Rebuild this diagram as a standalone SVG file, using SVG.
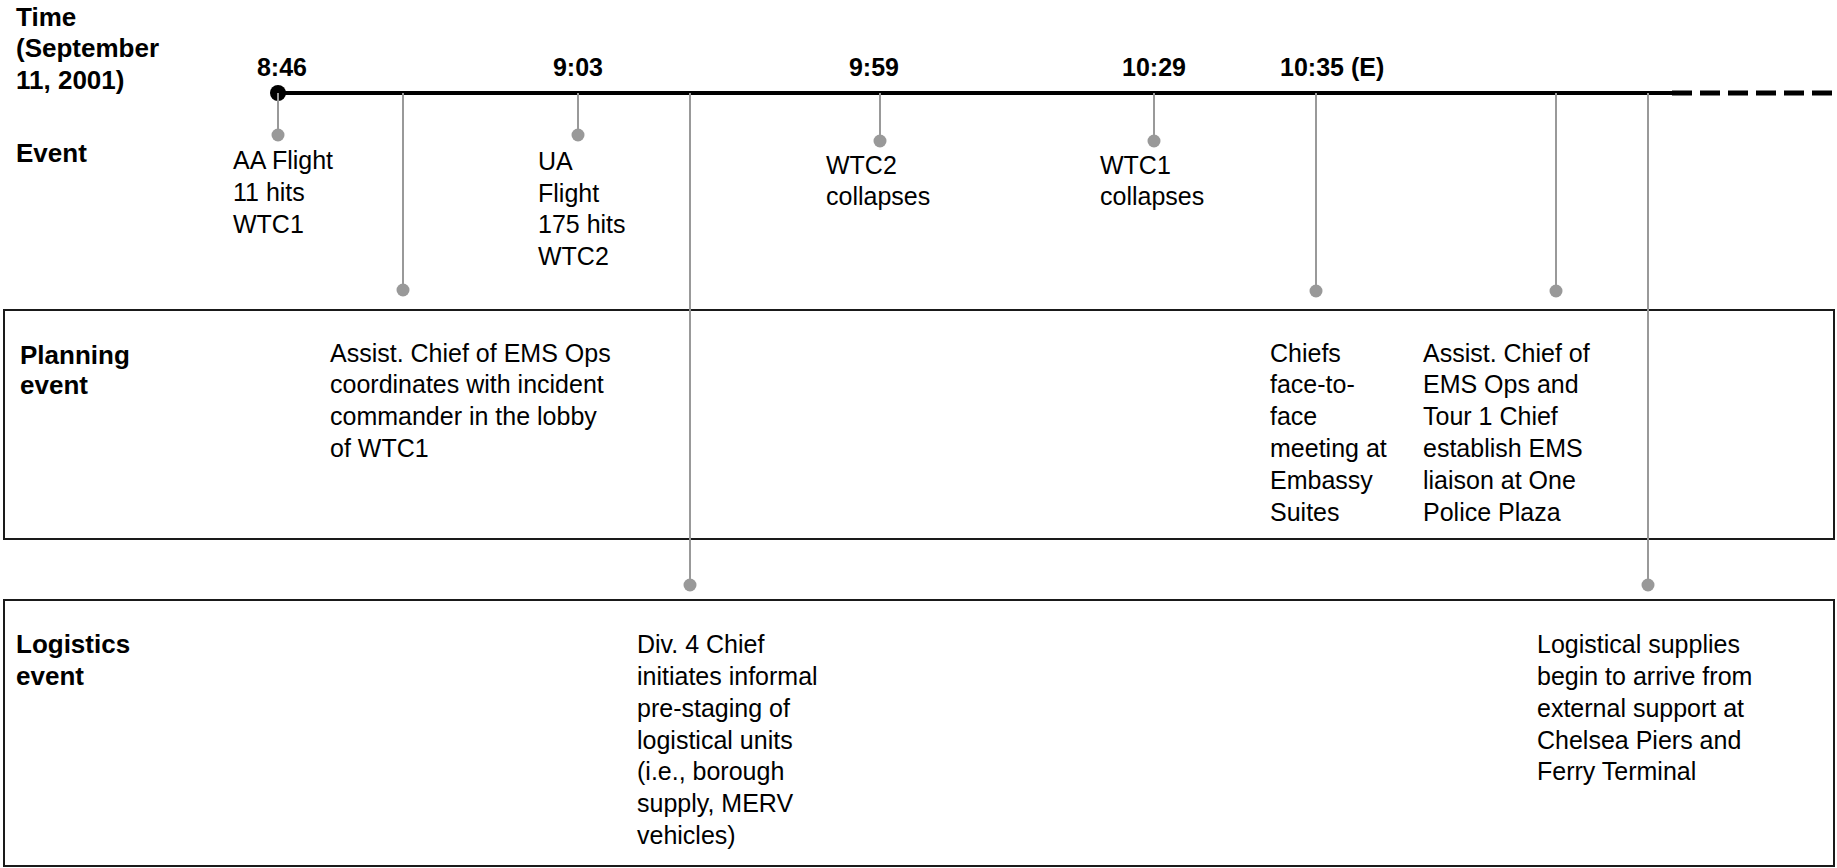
<svg xmlns="http://www.w3.org/2000/svg" width="1837" height="868" viewBox="0 0 1837 868">
<style>
  text { font-family: "Liberation Sans", Arial, sans-serif; font-size: 25px; fill: #000; }
  .b { font-weight: bold; }
  .lbl { font-weight: bold; font-size: 26px; }
  .mid { text-anchor: middle; }
  .stem { stroke: #999; stroke-width: 2; fill: none; }
  .pin { fill: #999; }
  .box { fill: none; stroke: #1a1a1a; stroke-width: 2; }
</style>
<rect width="1837" height="868" fill="#fff"/>

<g id="row-labels">
  <text class="lbl" x="16" y="26">Time</text>
  <text class="lbl" x="16" y="57">(September</text>
  <text class="lbl" x="16" y="89">11, 2001)</text>
  <text class="lbl" x="16" y="162">Event</text>
</g>

<g id="planning-box">
  <rect class="box" x="4" y="310" width="1830" height="229"/>
  <text class="lbl" x="20" y="364">Planning</text>
  <text class="lbl" x="20" y="394">event</text>
</g>

<g id="logistics-box">
  <rect class="box" x="4" y="600" width="1830" height="266"/>
  <text class="lbl" x="16" y="653">Logistics</text>
  <text class="lbl" x="16" y="685">event</text>
</g>

<g id="timeline">
  <line x1="278" y1="93" x2="1690" y2="93" stroke="#000" stroke-width="4"/>
  <line x1="1672" y1="93" x2="1832" y2="93" stroke="#000" stroke-width="5" stroke-dasharray="20 8"/>
  <circle cx="278" cy="93" r="8" fill="#000"/>
</g>

<g id="connectors">
  <line class="stem" x1="278" y1="93" x2="278" y2="135"/>
  <line class="stem" x1="578" y1="93" x2="578" y2="135"/>
  <line class="stem" x1="880" y1="93" x2="880" y2="141"/>
  <line class="stem" x1="1154" y1="93" x2="1154" y2="141"/>
  <line class="stem" x1="403" y1="93" x2="403" y2="290"/>
  <line class="stem" x1="690" y1="93" x2="690" y2="585"/>
  <line class="stem" x1="1316" y1="93" x2="1316" y2="291"/>
  <line class="stem" x1="1556" y1="93" x2="1556" y2="291"/>
  <line class="stem" x1="1648" y1="93" x2="1648" y2="585"/>
  <circle class="pin" cx="278" cy="135" r="6.5"/>
  <circle class="pin" cx="578" cy="135" r="6.5"/>
  <circle class="pin" cx="880" cy="141" r="6.5"/>
  <circle class="pin" cx="1154" cy="141" r="6.5"/>
  <circle class="pin" cx="403" cy="290" r="6.5"/>
  <circle class="pin" cx="690" cy="585" r="6.5"/>
  <circle class="pin" cx="1316" cy="291" r="6.5"/>
  <circle class="pin" cx="1556" cy="291" r="6.5"/>
  <circle class="pin" cx="1648" cy="585" r="6.5"/>
</g>

<g id="t-0846">
  <text class="b mid" x="282" y="76">8:46</text>
  <text x="233" y="169">AA Flight</text>
  <text x="233" y="201">11 hits</text>
  <text x="233" y="233">WTC1</text>
</g>

<g id="t-0903">
  <text class="b mid" x="578" y="76">9:03</text>
  <text x="538" y="170">UA</text>
  <text x="538" y="202">Flight</text>
  <text x="538" y="233">175 hits</text>
  <text x="538" y="265">WTC2</text>
</g>

<g id="t-0959">
  <text class="b mid" x="874" y="76">9:59</text>
  <text x="826" y="174">WTC2</text>
  <text x="826" y="205">collapses</text>
</g>

<g id="t-1029">
  <text class="b mid" x="1154" y="76">10:29</text>
  <text x="1100" y="174">WTC1</text>
  <text x="1100" y="205">collapses</text>
</g>

<g id="t-1035">
  <text class="b" x="1280" y="76">10:35 (E)</text>
</g>

<g id="plan-ems-ops">
  <text x="330" y="362">Assist. Chief of EMS Ops</text>
  <text x="330" y="393">coordinates with incident</text>
  <text x="330" y="425">commander in the lobby</text>
  <text x="330" y="457">of WTC1</text>
</g>

<g id="plan-chiefs-meeting">
  <text x="1270" y="362">Chiefs</text>
  <text x="1270" y="393">face-to-</text>
  <text x="1270" y="425">face</text>
  <text x="1270" y="457">meeting at</text>
  <text x="1270" y="489">Embassy</text>
  <text x="1270" y="521">Suites</text>
</g>

<g id="plan-liaison">
  <text x="1423" y="362">Assist. Chief of</text>
  <text x="1423" y="393">EMS Ops and</text>
  <text x="1423" y="425">Tour 1 Chief</text>
  <text x="1423" y="457">establish EMS</text>
  <text x="1423" y="489">liaison at One</text>
  <text x="1423" y="521">Police Plaza</text>
</g>

<g id="log-prestaging">
  <text x="637" y="653">Div. 4 Chief</text>
  <text x="637" y="685">initiates informal</text>
  <text x="637" y="717">pre-staging of</text>
  <text x="637" y="749">logistical units</text>
  <text x="637" y="780">(i.e., borough</text>
  <text x="637" y="812">supply, MERV</text>
  <text x="637" y="844">vehicles)</text>
</g>

<g id="log-supplies">
  <text x="1537" y="653">Logistical supplies</text>
  <text x="1537" y="685">begin to arrive from</text>
  <text x="1537" y="717">external support at</text>
  <text x="1537" y="749">Chelsea Piers and</text>
  <text x="1537" y="780">Ferry Terminal</text>
</g>
</svg>
